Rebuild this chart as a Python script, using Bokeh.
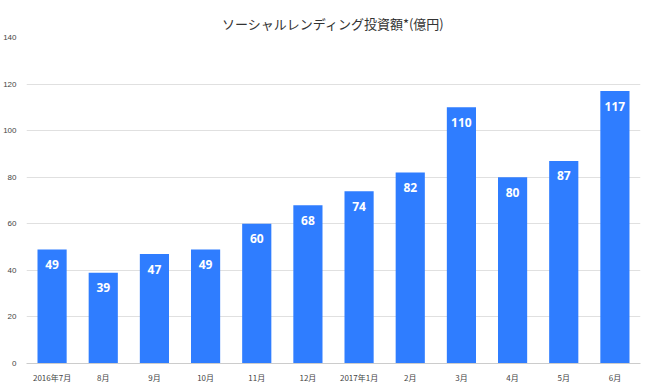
from bokeh.plotting import figure
from bokeh.models import ColumnDataSource, Range1d, FixedTicker, LabelSet
from bokeh.core.properties import value
from bokeh.embed import file_html
from bokeh.resources import INLINE

months = ["2016年7月", "8月", "9月", "10月", "11月", "12月", "2017年1月", "2月", "3月", "4月", "5月", "6月"]
amounts = [49, 39, 47, 49, 60, 68, 74, 82, 110, 80, 87, 117]
y_ticks = [0, 20, 40, 60, 80, 100, 120, 140]
title_text = "ソーシャルレンディング投資額*(億円)"

src = ColumnDataSource(dict(m=months, v=amounts, t=[str(a) for a in amounts]))

p = figure(x_range=months, y_range=Range1d(0, 140), frame_width=614, frame_height=326,
           output_backend="svg", toolbar_location=None, title=title_text,
           min_border_left=19, min_border_right=12, min_border_top=37, min_border_bottom=18)
p.x_range.range_padding = 0
p.title.align = "center"
p.title.offset = -4
p.title.text_font = "Noto Sans CJK JP"
p.title.text_font_size = "13px"
p.title.text_font_style = "normal"
p.title.text_color = "#333333"
p.outline_line_color = None

p.vbar(x="m", top="v", width=0.57, source=src, color="#2f7dff", line_color=None)
labels = LabelSet(x="m", y="v", text="t", source=src, text_align="center", text_baseline="middle",
                  y_offset=-15, text_color="white", text_font_style="bold",
                  text_font_size="12px", text_font=value("Open Sans"))
p.add_layout(labels)

p.yaxis.ticker = FixedTicker(ticks=y_ticks)
p.yaxis.axis_line_color = None
p.yaxis.major_tick_line_color = None
p.yaxis.minor_tick_line_color = None
p.yaxis.major_label_text_font_size = "8px"
p.yaxis.major_label_text_color = "#444444"
p.yaxis.major_label_standoff = 4
p.xaxis.axis_line_color = "#cccccc"
p.xaxis.major_tick_line_color = None
p.xaxis.major_label_text_font_size = "8px"
p.xaxis.major_label_text_color = "#444444"
p.xaxis.major_label_text_font = "Noto Sans CJK JP"
p.xaxis.major_label_standoff = 2
p.xgrid.grid_line_color = None
p.ygrid.grid_line_color = "#e0e0e0"

open("out.html", "w").write(file_html(p, INLINE))
